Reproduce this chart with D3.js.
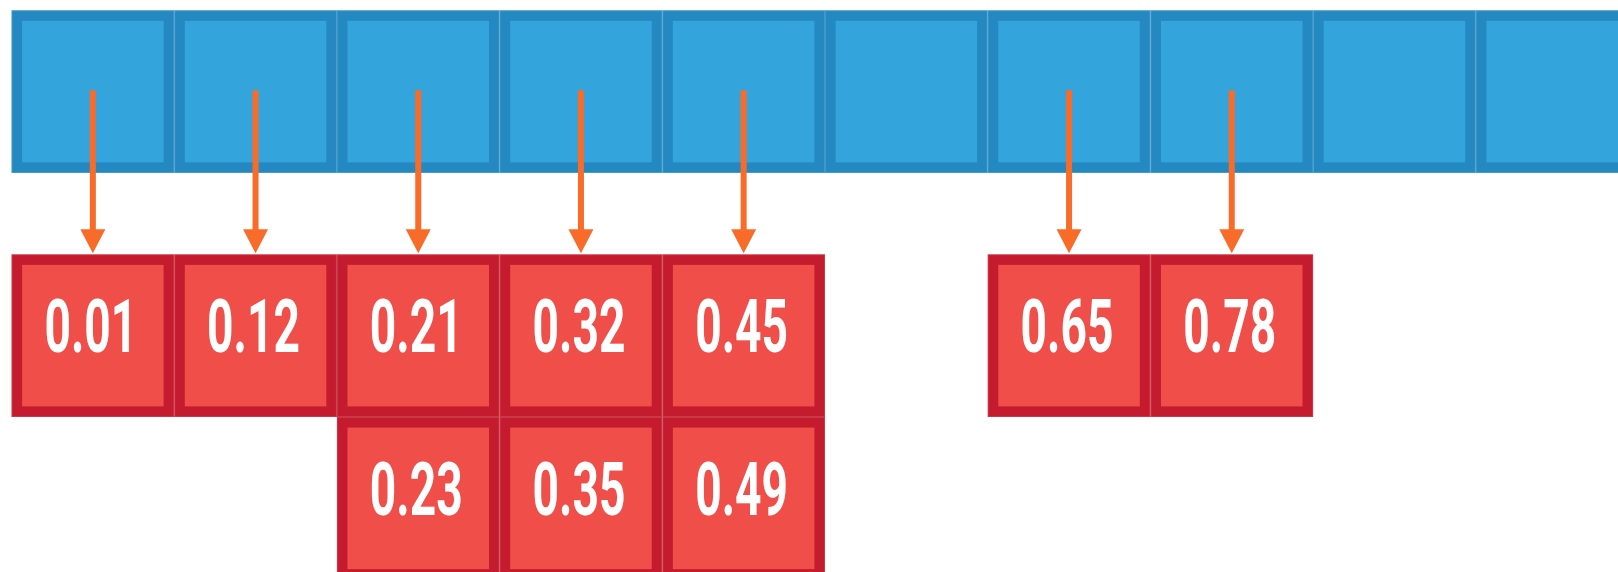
<!DOCTYPE html>
<html>
<head>
<meta charset="utf-8">
<script src="https://cdn.jsdelivr.net/npm/d3@7"></script>
<style>
  html, body { margin: 0; padding: 0; background: #ffffff; overflow: hidden; }
  svg { display: block; }
</style>
</head>
<body>
<svg id="chart" width="1618" height="572"></svg>
<script>
// ---- data ----
const bucketCount = 10;
const bucketIds = d3.range(bucketCount);
const values = [0.01, 0.12, 0.21, 0.32, 0.45, 0.65, 0.78, 0.23, 0.35, 0.49];
const valueLabels = values.map(v => d3.format(".2f")(v));

// ---- styles ----
const W = 1618, H = 572;
const cell = 162.7;
const border = 10.6;
const colors = {
  blueOuter: "#2489c1", blueInner: "#34a5dc",
  redOuter: "#c41c2e", redInner: "#ef4f48",
  arrow: "#f96b28", text: "#ffffff"
};

const svg = d3.select("#chart");

// column scale (bucket index -> x)
const x = d3.scaleLinear().domain([0, 1]).range([11.5, 11.5 + cell]);
// level scale (row level -> y) ; bucket row sits at level -1.5
const y = d3.scaleLinear().domain([0, 1]).range([254.3, 254.3 + cell]);
const bucketLevel = -1.5;

// assign items to buckets, stacking in insertion order
const counts = new Array(bucketCount).fill(0);
const items = values.map((v, i) => {
  const b = Math.min(bucketCount - 1, Math.floor(v * bucketCount));
  const level = counts[b]++;
  return { v, label: valueLabels[i], b, level };
});

function drawCell(g, outer, inner) {
  g.append("rect")
    .attr("x", 0).attr("y", 0).attr("width", cell).attr("height", cell)
    .attr("fill", outer);
  g.append("rect")
    .attr("x", border).attr("y", border)
    .attr("width", cell - 2 * border).attr("height", cell - 2 * border)
    .attr("fill", inner);
  g.append("rect")
    .attr("x", 0.5).attr("y", 0.5).attr("width", cell - 1).attr("height", cell - 1)
    .attr("fill", "none").attr("stroke", "rgba(255,255,255,0.13)").attr("stroke-width", 1);
}

// bucket row
svg.append("g").selectAll("g.bucket")
  .data(bucketIds).join("g")
  .attr("class", "bucket")
  .attr("transform", d => `translate(${x(d)},${y(bucketLevel)})`)
  .each(function() { drawCell(d3.select(this), colors.blueOuter, colors.blueInner); });

// item cells
const itemG = svg.append("g").selectAll("g.item")
  .data(items).join("g")
  .attr("class", "item")
  .attr("transform", d => `translate(${x(d.b)},${y(d.level)})`);
itemG.each(function() { drawCell(d3.select(this), colors.redOuter, colors.redInner); });

itemG.append("text")
  .attr("transform", `translate(${cell / 2 - 2},${98}) scale(0.62,1)`)
  .attr("text-anchor", "middle")
  .attr("font-family", "Roboto, 'DejaVu Sans', sans-serif")
  .attr("font-weight", 700)
  .attr("font-size", 74.5)
  .attr("fill", colors.text)
  .text(d => d.label);

// arrows from bucket to first item in each used bucket
const usedBuckets = Array.from(new Set(items.map(d => d.b))).sort((a, b) => a - b);
const arrowTop = y(bucketLevel) + 80;
const arrowTip = y(0) - 1;
const headLen = 24, headW = 25, shaftW = 6;
const arrows = svg.append("g").selectAll("g.arrow")
  .data(usedBuckets).join("g")
  .attr("class", "arrow")
  .attr("transform", d => `translate(${x(d) + cell / 2},0)`);
arrows.append("rect")
  .attr("x", -shaftW / 2).attr("y", arrowTop)
  .attr("width", shaftW).attr("height", arrowTip - headLen - arrowTop + 2)
  .attr("fill", colors.arrow);
arrows.append("path")
  .attr("d", `M${-headW / 2},${arrowTip - headLen} L${headW / 2},${arrowTip - headLen} L0,${arrowTip} Z`)
  .attr("fill", colors.arrow);
</script>
</body>
</html>
